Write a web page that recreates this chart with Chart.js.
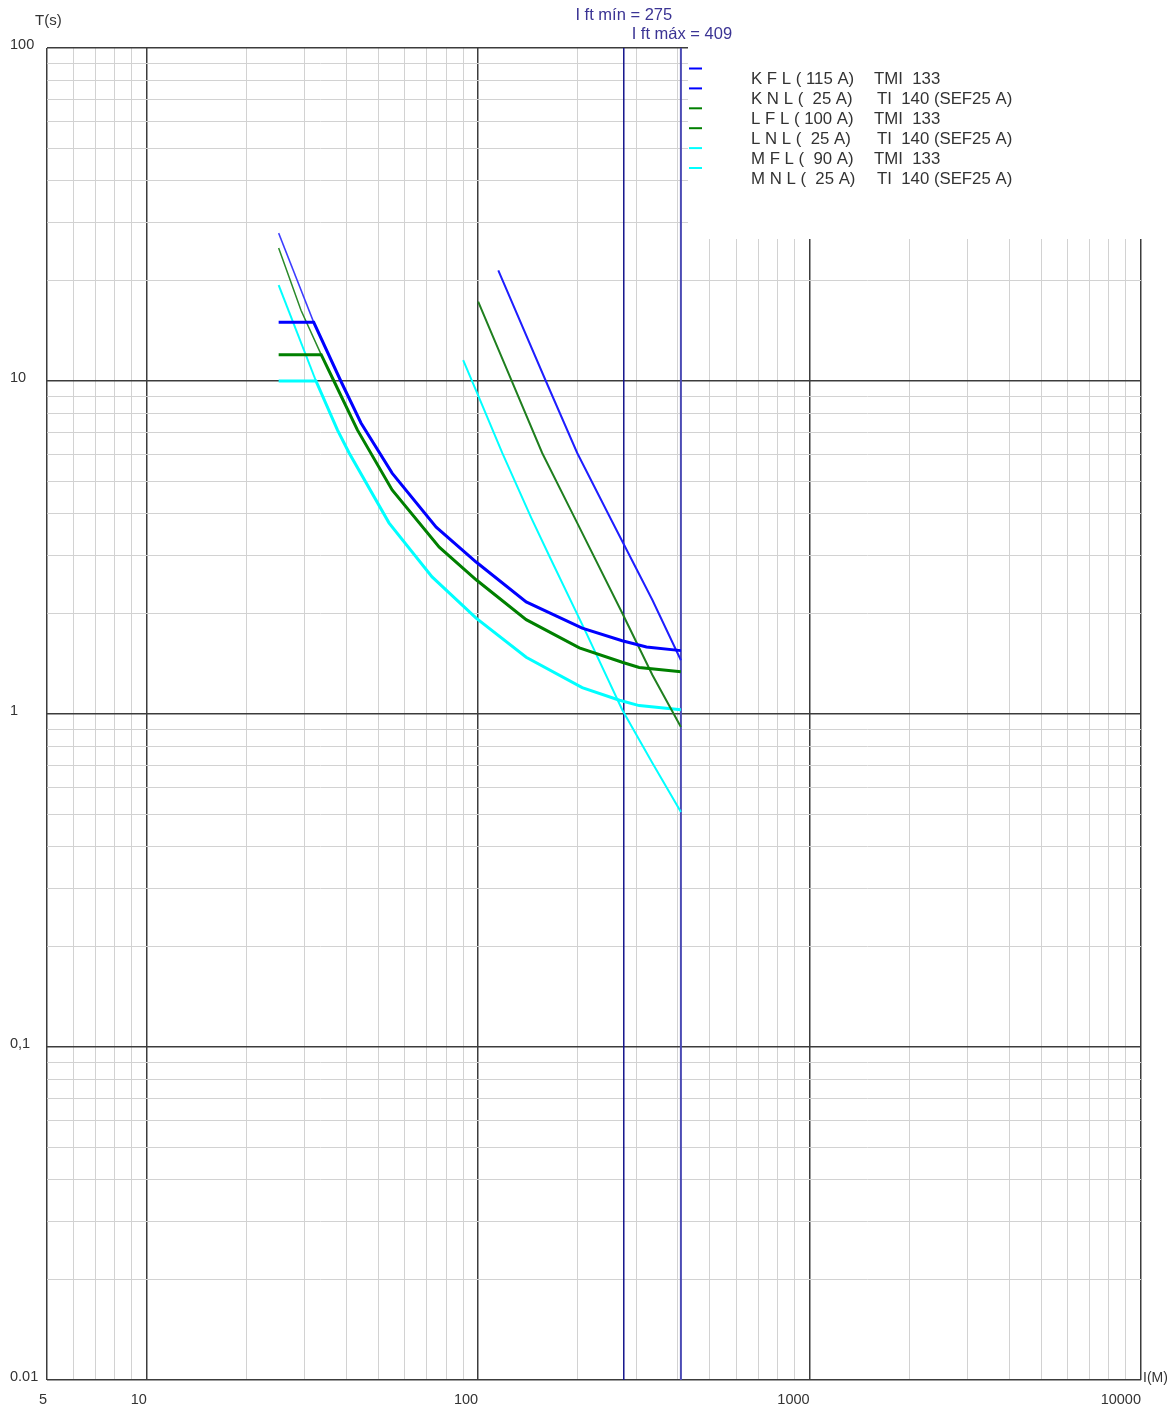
<!DOCTYPE html>
<html><head><meta charset="utf-8">
<script src="https://cdn.jsdelivr.net/npm/chart.js@4.4.0/dist/chart.umd.min.js"></script>
<style>html,body{margin:0;padding:0;background:#fff;}canvas{display:block;}</style>
</head><body>
<canvas id="c" width="1174" height="1412"></canvas>
<script>
// ---- Axis ticks / grid ----
const xGridValues = [5,6,7,8,9,10,20,30,40,50,60,70,80,90,100,200,300,400,500,600,700,800,900,1000,2000,3000,4000,5000,6000,7000,8000,9000,10000];
const xMajorValues = [5,10,100,1000,10000];
const xLabelValues = [5,10,100,1000,10000];
const xLabelTexts = ['5','10','100','1000','10000'];
const yGridValues = [0.01,0.02,0.03,0.04,0.05,0.06,0.07,0.08,0.09,0.1,0.2,0.3,0.4,0.5,0.6,0.7,0.8,0.9,1,2,3,4,5,6,7,8,9,10,20,30,40,50,60,70,80,90,100];
const yMajorValues = [0.01,0.1,1,10,100];
const yLabelValues = [100,10,1,0.1,0.01];
const yLabelTexts = ['100','10','1','0,1','0.01'];

// ---- Series (current A, time s) ----
const kflCurrent = [25, 31.9, 38.5, 44.3, 55, 74.7, 98.6, 139.6, 206, 272, 322, 409];
const kflTime    = [15, 15, 10, 7.48, 5.29, 3.64, 2.86, 2.17, 1.81, 1.66, 1.59, 1.55];
const kflUpperCurrent = [25, 31.9];
const kflUpperTime    = [27.8, 15];
const knlCurrent = [115, 160.5, 199, 252, 335.5, 409];
const knlTime    = [21.5, 9.93, 6.08, 3.83, 2.20, 1.45];

const lflCurrent = [25, 33.6, 36.7, 43.2, 55, 76.3, 98.6, 139.6, 202, 272, 306, 409];
const lflTime    = [12, 12, 10, 7.13, 4.71, 3.17, 2.53, 1.92, 1.58, 1.43, 1.38, 1.34];
const lflUpperCurrent = [25, 29.2, 33.6];
const lflUpperTime    = [25.1, 16.3, 12];
const lnlCurrent = [100, 126.7, 156, 195, 272, 335.5, 409];
const lnlTime    = [17.3, 9.93, 6.08, 3.90, 2.01, 1.31, 0.914];

const mflCurrent = [25, 32.4, 37.6, 40.8, 53.8, 72.6, 98.6, 139.6, 206, 267, 306, 409];
const mflTime    = [10, 10, 7.13, 6.08, 3.75, 2.58, 1.94, 1.48, 1.20, 1.10, 1.06, 1.03];
const mflUpperCurrent = [25, 32.4];
const mflUpperTime    = [19.4, 10];
const mnlCurrent = [90.1, 99.3, 118.2, 144.6, 165, 212, 272, 335.5, 409];
const mnlTime    = [11.56, 9.2, 6.08, 3.88, 2.94, 1.75, 1.03, 0.713, 0.508];

const limitValues = [275, 409];
const limitTexts = ['I ft mín = 275', 'I ft máx = 409'];
const limitTimeSpan = [0.01, 100];

const legendNames = ['K F L ( 115 A)', 'K N L (  25 A)', 'L F L ( 100 A)', 'L N L (  25 A)', 'M F L (  90 A)', 'M N L (  25 A)'];
const legendDevices = ['TMI  133', 'TI  140 (SEF25 A)', 'TMI  133', 'TI  140 (SEF25 A)', 'TMI  133', 'TI  140 (SEF25 A)'];
const legendColors = ['#0000ff', '#0000ff', '#008000', '#008000', '#00ffff', '#00ffff'];

const FONT = "'Liberation Sans', Arial, sans-serif";

function series(xs, ys, color, width) {
  return { data: xs.map((x, i) => ({ x: x, y: ys[i] })), borderColor: color, backgroundColor: color,
           borderWidth: width, showLine: true, pointRadius: 0, pointHoverRadius: 0, fill: false, tension: 0 };
}

const datasets = [
  series(kflCurrent, kflTime, '#0000ff', 3),
  series(kflUpperCurrent, kflUpperTime, '#3c3cff', 1.5),
  series(knlCurrent, knlTime, '#1e1eff', 2),
  series(lflCurrent, lflTime, '#008000', 3),
  series(lflUpperCurrent, lflUpperTime, '#2a8a2a', 1.5),
  series(lnlCurrent, lnlTime, '#1f7f1f', 2),
  series(mflCurrent, mflTime, '#00ffff', 3),
  series(mflUpperCurrent, mflUpperTime, '#00ffff', 2),
  series(mnlCurrent, mnlTime, '#00ffff', 2),
  series([limitValues[0], limitValues[0]], limitTimeSpan, '#14148c', 1.5),
  series([limitValues[1], limitValues[1]], limitTimeSpan, '#4b4bb4', 2)
];

const whiteBox = {
  id: 'whiteBox',
  beforeDatasetsDraw(chart) {
    const ca = chart.chartArea, ctx = chart.ctx;
    ctx.save();
    ctx.fillStyle = '#ffffff';
    ctx.fillRect(ca.right - 453, ca.top - 2, 460, 193);
    ctx.restore();
  }
};

const texts = {
  id: 'texts',
  afterDraw(chart) {
    const ctx = chart.ctx, ca = chart.chartArea, xs = chart.scales.x;
    ctx.save();
    ctx.fillStyle = '#333333';
    ctx.textBaseline = 'alphabetic';
    ctx.textAlign = 'left';
    ctx.font = '15px ' + FONT;
    ctx.fillText('T(s)', 35, 25);
    ctx.font = '14px ' + FONT;
    ctx.fillText('I(M)', ca.right + 2, ca.bottom + 2);
    // limit labels
    ctx.fillStyle = '#3b3494';
    ctx.font = '16.5px ' + FONT;
    ctx.textAlign = 'center';
    ctx.fillText(limitTexts[0], xs.getPixelForValue(limitValues[0]), 20);
    ctx.fillText(limitTexts[1], xs.getPixelForValue(limitValues[1]) + 1, 39);
    // legend
    ctx.textAlign = 'left';
    ctx.font = '16.8px ' + FONT;
    for (let i = 0; i < legendNames.length; i++) {
      const my = 68.5 + i * 19.9;
      ctx.strokeStyle = legendColors[i];
      ctx.lineWidth = 2;
      ctx.beginPath();
      ctx.moveTo(689, my);
      ctx.lineTo(702, my);
      ctx.stroke();
      ctx.fillStyle = '#333333';
      const by = 84 + i * 20;
      ctx.fillText(legendNames[i], 751, by);
      ctx.fillText(legendDevices[i], i % 2 === 0 ? 874 : 877, by);
    }
    ctx.restore();
  }
};

const gridColor = (majors) => (c) => (c.tick && majors.includes(c.tick.value)) ? '#3c3c3c' : '#d2d2d2';
const gridWidth = (majors) => (c) => (c.tick && majors.includes(c.tick.value)) ? 1.5 : 1;

new Chart(document.getElementById('c'), {
  type: 'scatter',
  data: { datasets: datasets },
  options: {
    responsive: false,
    animation: false,
    devicePixelRatio: 1,
    events: [],
    layout: { autoPadding: false, padding: { left: 10, top: 48, right: 33, bottom: 0 } },
    plugins: { legend: { display: false }, tooltip: { enabled: false }, title: { display: false } },
    scales: {
      x: {
        type: 'logarithmic', position: 'bottom', min: 5, max: 10000,
        afterBuildTicks: (s) => { s.ticks = xGridValues.map(v => ({ value: v })); },
        afterFit: (s) => { s.height = 32; },
        border: { display: false },
        grid: { drawTicks: false, color: gridColor(xMajorValues), lineWidth: gridWidth(xMajorValues) },
        ticks: {
          autoSkip: false, maxRotation: 0, minRotation: 0, align: 'end', padding: 11,
          color: '#333333', font: { family: FONT, size: 14.5 },
          callback: (v) => { const i = xLabelValues.indexOf(v); return i >= 0 ? xLabelTexts[i] : ''; }
        }
      },
      y: {
        type: 'logarithmic', position: 'left', min: 0.01, max: 100,
        afterBuildTicks: (s) => { s.ticks = yGridValues.map(v => ({ value: v })); },
        afterFit: (s) => { s.width = 37; },
        border: { display: false },
        grid: { drawTicks: false, color: gridColor(yMajorValues), lineWidth: gridWidth(yMajorValues) },
        ticks: {
          autoSkip: false, crossAlign: 'far', padding: 0, labelOffset: -3,
          color: '#333333', font: { family: FONT, size: 14.5 },
          callback: (v) => { const i = yLabelValues.indexOf(v); return i >= 0 ? yLabelTexts[i] : ''; }
        }
      }
    }
  },
  plugins: [whiteBox, texts]
});
</script>
</body></html>
